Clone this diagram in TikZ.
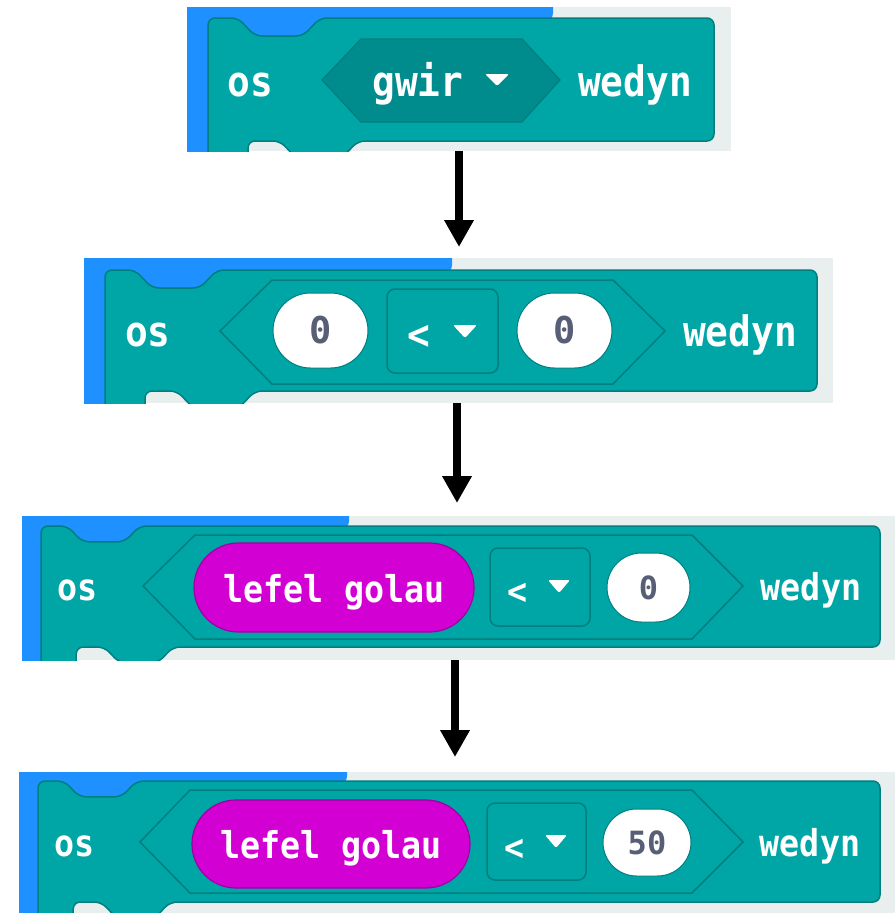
\documentclass[tikz,border=0pt]{standalone}
\usepackage{fontspec}
\usetikzlibrary{arrows.meta,shapes.misc}
\newfontfamily\mcbold[FakeStretch=0.9]{DejaVu Sans Mono Bold}
\newfontfamily\mcnum{DejaVu Sans Mono Bold}
\definecolor{mcteal}{RGB}{0,165,165}
\definecolor{mcdark}{RGB}{0,126,128}
\definecolor{mchex}{RGB}{0,139,140}
\definecolor{mcblue}{RGB}{30,144,255}
\definecolor{mcgrey}{RGB}{233,238,238}
\definecolor{mcpink}{RGB}{210,0,210}
\definecolor{mcpinkdark}{RGB}{160,0,160}
\definecolor{mcslate}{RGB}{87,94,117}
\tikzset{
  blockshape/.style={fill=mcteal, draw=mcdark, line width=1.5pt, rounded corners=7pt},
  hexdark/.style={fill=mchex, draw=mcdark, line width=1.2pt},
  hexline/.style={draw=mcdark, line width=1.5pt},
  lbl/.style={text=white, font=\mcbold\fontsize{42}{44}\selectfont, anchor=base, inner sep=0pt},
  lbls/.style={text=white, font=\mcbold\fontsize{37}{40}\selectfont, anchor=base, inner sep=0pt},
  numb/.style={text=mcslate, font=\mcnum\fontsize{37}{40}\selectfont, anchor=base, inner sep=0pt},
  nums/.style={text=mcslate, font=\mcnum\fontsize{32}{34}\selectfont, anchor=base, inner sep=0pt},
  oval/.style={rounded rectangle, fill=white, draw=mcdark, line width=1pt, inner sep=0pt},
  pill/.style={rounded rectangle, fill=mcpink, draw=mcpinkdark, line width=1.2pt, inner sep=0pt},
  ddbox/.style={rectangle, rounded corners=8pt, fill=mcteal, draw=mcdark, line width=1.5pt, inner sep=0pt},
  ddtri/.style={fill=white, rounded corners=2pt},
  flowarrow/.style={line width=8pt, draw=black, -{Triangle[width=28pt,length=27pt]}},
}
\def\ns{1}
% #1 FL, #2 FT, #3 FR, #4 FB, #5 X0, #6 Y0, #7 XR, #8 YB, #9 blue end
\newcommand{\mcblock}[9]{%
  \begin{scope}
    \clip (#1,#2) rectangle (#3,#4);
    \fill[mcgrey] (#1,#2) rectangle (#3,#4);
    \fill[mcblue, rounded corners=9pt] ({#1-30},{#2-30}) rectangle (#9,{#6+4});
    \fill[mcblue] ({#1-30},{#2-30}) rectangle ({#5+130*\ns},{#6+28});
    \fill[mcblue] ({#1-30},{#2-30}) rectangle ({#5+15},{#4+30});
    \filldraw[blockshape] (#5,{#4+40}) -- (#5,#6) -- ({#5+30*\ns},#6)
      -- ({#5+47*\ns},{#6+18*\ns}) -- ({#5+95*\ns},{#6+18*\ns}) -- ({#5+112*\ns},#6)
      -- (#7,#6) -- (#7,#8) -- ({#5+150*\ns},#8) -- ({#5+133*\ns},{#8+18*\ns})
      -- ({#5+89*\ns},{#8+18*\ns}) -- ({#5+72*\ns},#8) -- ({#5+40*\ns},#8)
      -- ({#5+40*\ns},{#4+40}) -- cycle;
  \end{scope}}
\begin{document}
\begin{tikzpicture}[x=1pt,y=-1pt]
\useasboundingbox (0,0) rectangle (895,913);
\fill[white] (0,0) rectangle (895,913);

% ---------- Panel 1 ----------
\mcblock{187}{7}{731}{151}{208}{18}{714}{141}{553}
\filldraw[hexdark] (322,80) -- (361,39) -- (522,39) -- (560,80) -- (522,122) -- (361,122) -- cycle;
\node[lbl] (os1) at (250,96) {os};
\node[lbl] (gwir) at (418,96) {gwir};
\fill[ddtri] (485,74) -- (509,74) -- (497,86) -- cycle;
\node[lbl] (wedyn1) at (635,96) {wedyn};

% ---------- Panel 2 ----------
\mcblock{84}{258}{833}{403}{105}{270}{817}{391}{452}
\draw[hexline] (220,331) -- (272,280) -- (613,280) -- (665,331) -- (613,384) -- (272,384) -- cycle;
\node[oval, minimum width=95pt, minimum height=75pt] (ov2a) at (320.5,330.5) {};
\node[ddbox, minimum width=111pt, minimum height=84pt] (dd2) at (442.5,331) {};
\node[oval, minimum width=95pt, minimum height=75pt] (ov2b) at (564.5,330.5) {};
\node[lbl] (os2) at (148,346) {os};
\node[numb] (n2a) at (320.5,343) {0};
\node[lbl] (lt2) at (419,349) {<};
\fill[ddtri] (453,325) -- (477,325) -- (465,338) -- cycle;
\node[numb] (n2b) at (564.5,343) {0};
\node[lbl] (wedyn2) at (740,346) {wedyn};

% ---------- Panel 3 ----------
\def\ns{0.88}
\mcblock{22}{516}{895}{660}{41}{526}{880}{647}{349}
\draw[hexline] (143,586) -- (195,535) -- (692,535) -- (743,586) -- (692,639) -- (195,639) -- cycle;
\node[pill, minimum width=280pt, minimum height=89pt] (pill3) at (334,587.5) {};
\node[ddbox, minimum width=100pt, minimum height=78pt] (dd3) at (540,587) {};
\node[oval, minimum width=83pt, minimum height=69pt] (ov3) at (648.5,587.5) {};
\node[lbls] (os3) at (77.5,600) {os};
\node[lbls] (lg3) at (334,602) {lefel golau};
\node[lbls] (lt3) at (518,604) {<};
\fill[ddtri] (548,580) -- (570,580) -- (559,593) -- cycle;
\node[nums] (n3) at (648.5,599) {0};
\node[lbls] (wedyn3) at (811,600) {wedyn};

% ---------- Panel 4 ----------
\mcblock{19}{772}{895}{913}{38}{781}{880}{902}{347}
\draw[hexline] (140,842) -- (190,790) -- (692,790) -- (743,842) -- (692,893) -- (190,893) -- cycle;
\node[pill, minimum width=278pt, minimum height=88pt] (pill4) at (331,844) {};
\node[ddbox, minimum width=99pt, minimum height=77pt] (dd4) at (536.5,841.5) {};
\node[oval, minimum width=88pt, minimum height=67pt] (ov4) at (647,842.5) {};
\node[lbls] (os4) at (74.5,856) {os};
\node[lbls] (lg4) at (331,858) {lefel golau};
\node[lbls] (lt4) at (515,860) {<};
\fill[ddtri] (545,835) -- (567,835) -- (556,848) -- cycle;
\node[nums] (n4) at (647,854) {50};
\node[lbls] (wedyn4) at (810,856) {wedyn};

% ---------- Arrows ----------
\coordinate (a1s) at (459,151);
\coordinate (a1e) at (459,247);
\coordinate (a2s) at (457,403);
\coordinate (a2e) at (457,503);
\coordinate (a3s) at (455,660);
\coordinate (a3e) at (455,757);
\draw[flowarrow] (a1s) -- (a1e);
\draw[flowarrow] (a2s) -- (a2e);
\draw[flowarrow] (a3s) -- (a3e);
\end{tikzpicture}
\end{document}
